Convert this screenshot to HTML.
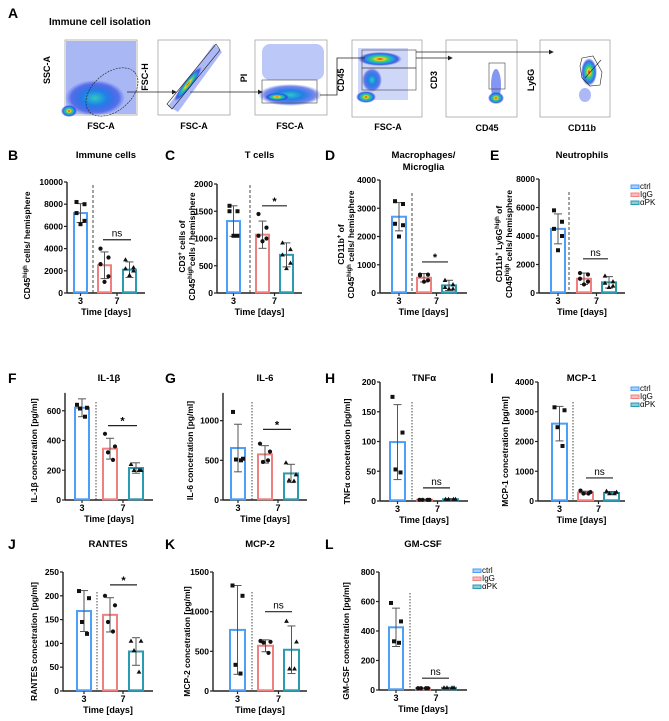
<!DOCTYPE html>
<html><head><meta charset="utf-8"><style>
html,body{margin:0;padding:0;background:#fff}
svg{display:block;font-family:"Liberation Sans",sans-serif}
.b{font-weight:bold}
</style></head><body>
<svg id="fig" width="669" height="721" viewBox="0 0 669 721" xmlns="http://www.w3.org/2000/svg">
<defs>
<radialGradient id="heat" cx="50%" cy="50%" r="50%">
<stop offset="0" stop-color="#e0201a"/><stop offset="0.2" stop-color="#f5d020"/><stop offset="0.4" stop-color="#30d070"/><stop offset="0.6" stop-color="#20a0e0"/><stop offset="0.8" stop-color="#2040e0" stop-opacity="0.8"/><stop offset="1" stop-color="#3050f0" stop-opacity="0"/>
</radialGradient>
<radialGradient id="cool" cx="50%" cy="50%" r="50%">
<stop offset="0" stop-color="#30c8c0"/><stop offset="0.4" stop-color="#2080e8"/><stop offset="0.8" stop-color="#2040e0" stop-opacity="0.6"/><stop offset="1" stop-color="#3050f0" stop-opacity="0"/>
</radialGradient>
<radialGradient id="haze" cx="50%" cy="50%" r="50%">
<stop offset="0" stop-color="#3050e8" stop-opacity="0.7"/><stop offset="1" stop-color="#3050e8" stop-opacity="0"/>
</radialGradient>
<marker id="ah" markerWidth="6" markerHeight="6" refX="5" refY="3" orient="auto"><path d="M0,0 L6,3 L0,6 z" fill="#222"/></marker>
</defs>
<g id="panelA">
<text x="8" y="18" class="b" font-size="14">A</text>
<text x="49" y="25" class="b" font-size="10">Immune cell isolation</text>
<g>
<rect x="65" y="40" width="72" height="75" fill="#fff" stroke="#999" stroke-width="0.7"/>
<rect x="66" y="41" width="70" height="73" fill="#4060e8" opacity="0.45"/>
<ellipse cx="95" cy="98" rx="30" ry="18" fill="url(#cool)"/>
<ellipse cx="69" cy="111" rx="8" ry="6" fill="url(#heat)"/>
<ellipse cx="112" cy="92" rx="30" ry="19" transform="rotate(-40 112 92)" fill="none" stroke="#222" stroke-width="0.6" stroke-dasharray="2,1"/>
<text x="50" y="70" class="b" font-size="9" transform="rotate(-90 50 70)" text-anchor="middle">SSC-A</text>
<text x="101" y="129" class="b" font-size="9" text-anchor="middle">FSC-A</text>
</g>
<g>
<rect x="158" y="40" width="72" height="75" fill="#fff" stroke="#999" stroke-width="0.7"/>
<polygon points="168,106 178,112 222,52 214,44" fill="#3050e8" opacity="0.4"/>
<ellipse cx="188" cy="84" rx="22" ry="4" transform="rotate(-52 188 84)" fill="url(#heat)"/>
<polygon points="167,104 172,109 220,50 216,44" fill="none" stroke="#222" stroke-width="0.6"/>
<text x="148" y="77" class="b" font-size="9" transform="rotate(-90 148 77)" text-anchor="middle">FSC-H</text>
<text x="194" y="129" class="b" font-size="9" text-anchor="middle">FSC-A</text>
</g>
<g>
<rect x="255" y="40" width="72" height="75" fill="#fff" stroke="#999" stroke-width="0.7"/>
<rect x="262" y="44" width="62" height="36" rx="8" fill="#4060e8" opacity="0.35"/>
<ellipse cx="290" cy="95" rx="32" ry="11" fill="url(#cool)"/>
<ellipse cx="277" cy="97" rx="12" ry="4" fill="url(#heat)"/>
<rect x="262" y="80" width="55" height="23" fill="none" stroke="#444" stroke-width="0.6"/>
<text x="247" y="78" class="b" font-size="9" transform="rotate(-90 247 78)" text-anchor="middle">PI</text>
<text x="290" y="129" class="b" font-size="9" text-anchor="middle">FSC-A</text>
</g>
<g>
<rect x="352" y="40" width="70" height="77" fill="#fff" stroke="#999" stroke-width="0.7"/>
<rect x="358" y="48" width="50" height="52" fill="#4060e8" opacity="0.25"/>
<ellipse cx="380" cy="59" rx="22" ry="7" fill="url(#heat)"/>
<ellipse cx="372" cy="80" rx="10" ry="12" fill="url(#cool)"/>
<ellipse cx="366" cy="97" rx="10" ry="6" fill="url(#heat)"/>
<rect x="362" y="50" width="54" height="18" fill="none" stroke="#444" stroke-width="0.6"/>
<rect x="362" y="68" width="54" height="22" fill="none" stroke="#444" stroke-width="0.6"/>
<text x="344" y="80" class="b" font-size="9" transform="rotate(-90 344 80)" text-anchor="middle">CD45</text>
<text x="388" y="130" class="b" font-size="9" text-anchor="middle">FSC-A</text>
</g>
<g>
<rect x="446" y="40" width="71" height="77" fill="#fff" stroke="#999" stroke-width="0.7"/>
<ellipse cx="496" cy="85" rx="5" ry="16" fill="#3050e8" opacity="0.6"/>
<ellipse cx="496" cy="98" rx="8" ry="6" fill="url(#heat)"/>
<rect x="489" y="63" width="16" height="26" fill="none" stroke="#444" stroke-width="0.6"/>
<text x="437" y="80" class="b" font-size="9" transform="rotate(-90 437 80)" text-anchor="middle">CD3</text>
<text x="487" y="131" class="b" font-size="9" text-anchor="middle">CD45</text>
</g>
<g>
<rect x="540" y="40" width="70" height="77" fill="#fff" stroke="#999" stroke-width="0.7"/>
<ellipse cx="589" cy="72" rx="8" ry="14" fill="url(#heat)"/>
<ellipse cx="585" cy="95" rx="6" ry="7" fill="#3050e8" opacity="0.4"/>
<polygon points="582,58 593,56 602,72 600,85 590,86 582,78 580,66" fill="none" stroke="#222" stroke-width="0.6"/>
<line x1="585" y1="78" x2="601" y2="60" stroke="#222" stroke-width="0.6"/>
<text x="534" y="80" class="b" font-size="9" transform="rotate(-90 534 80)" text-anchor="middle">Ly6G</text>
<text x="582" y="131" class="b" font-size="9" text-anchor="middle">CD11b</text>
</g>
<g stroke="#222" stroke-width="0.8" fill="none">
<line x1="127" y1="92" x2="176" y2="92" marker-end="url(#ah)"/>
<line x1="190" y1="92" x2="262" y2="92" marker-end="url(#ah)"/>
<polyline points="320,95 337,95 337,58 365,58"/>
<line x1="416" y1="58" x2="452" y2="58" marker-end="url(#ah)"/>
<line x1="416" y1="52" x2="553" y2="52" marker-end="url(#ah)"/>
</g>
</g>
<g id="charts"></g>
</svg>
<script>
// ---- data ----
const tickB=[0,2000,4000,6000,8000,10000];
const meanB=[7200,2500,2100]; const sdB=[850,1200,700];
const ctrlB=[8200,8000,7200,6500,6200]; const iggB=[4000,3200,2600,1500,1000]; const apkB=[3000,2300,2200,2000,1600];
const tickC=[0,500,1000,1500,2000];
const meanC=[1320,1070,700]; const sdC=[280,250,220];
const ctrlC=[1600,1500,1500,1050,1050]; const iggC=[1450,1200,1050,1000,950]; const apkC=[920,800,700,550,450];
const tickD=[0,1000,2000,3000,4000];
const meanD=[2700,540,270]; const sdD=[500,150,180];
const ctrlD=[3250,3150,2450,2400,2000]; const iggD=[650,650,620,450,400]; const apkD=[450,300,200,150,150];
const tickE=[0,2000,4000,6000,8000];
const meanE=[4500,1000,750]; const sdE=[1050,400,400];
const ctrlE=[5800,5000,4500,4000,3000]; const iggE=[1400,1300,1000,800,600]; const apkE=[1200,800,700,500,400];
const tickF=[0,200,400,600];
const meanF=[620,345,215]; const sdF=[60,70,35];
const ctrlF=[640,620,615,560]; const iggF=[445,360,320,270]; const apkF=[240,200,200,200];
const tickG=[0,500,1000];
const meanG=[655,575,335]; const sdG=[300,110,115];
const ctrlG=[1110,520,510,500]; const iggG=[710,610,480,500]; const apkG=[470,320,250,240];
const tickH=[0,50,100,150,200];
const meanH=[99,2,3]; const sdH=[63,1,1];
const ctrlH=[175,115,53,48]; const iggH=[2,2,2,2]; const apkH=[3,3,3,3];
const tickI=[0,1000,2000,3000,4000];
const meanI=[2600,280,270]; const sdI=[580,50,50];
const ctrlI=[3150,3050,2480,1850]; const iggI=[350,300,250,250]; const apkI=[330,300,250,250];
const tickJ=[0,50,100,150,200,250];
const meanJ=[168,160,83]; const sdJ=[43,36,29];
const ctrlJ=[210,195,145,120]; const iggJ=[200,180,145,125]; const apkJ=[105,105,85,40];
const tickK=[0,500,1000,1500];
const meanK=[770,570,520]; const sdK=[560,75,300];
const ctrlK=[1330,1200,330,220]; const iggK=[630,620,610,480]; const apkK=[880,620,280,280];
const tickL=[0,200,400,600,800];
const meanL=[425,12,15]; const sdL=[130,2,2];
const ctrlL=[590,465,330,320]; const iggL=[12,12,12,12]; const apkL=[15,15,15,15];
const sigLabels=["ns","*","*","ns","*","*","ns","ns","*","ns","ns"];
const sigLevels=[4800,1600,1100,2400,500,890,22,775,223,1000,80];
const categories=["3","7"];
const seriesNames=["ctrl","IgG","αPK"];

const COL=["#4d9ef7","#f08080","#2a9bb0"];
const FILL=["#a9cdfb","#f7bcbc","#8fcbd6"];
const NS="http://www.w3.org/2000/svg";
const root=document.getElementById('charts');
function mk(tag,attrs,parent,txt){const e=document.createElementNS(NS,tag);for(const k in attrs)e.setAttribute(k,attrs[k]);if(txt!==undefined)e.textContent=txt;(parent||root).appendChild(e);return e;}

const panels=[
 {id:'b',letter:'B',title:['Immune cells'],ticks:tickB,mean:meanB,sd:sdB,pts:[ctrlB,iggB,apkB],ax:67,y0:293,ytop:182,ymax:10000,axMax:10000,bars:[73,97,122],bw:15,end:145,dash:93,dashTop:185,ylab:[['CD45','high',' cells/ hemisphere']],ylx:30,sx:[103,131]},
 {id:'c',letter:'C',title:['T cells'],ticks:tickC,mean:meanC,sd:sdC,pts:[ctrlC,iggC,apkC],ax:217,y0:293,ytop:184,ymax:2000,axMax:2000,bars:[226,255,279],bw:15,end:302,dash:250,dashTop:185,ylab:[['CD3','+',' cells of'],['CD45','high','cells / hemisphere']],ylx:185,sx:[262,287]},
 {id:'d',letter:'D',title:['Macrophages/','Microglia'],ticks:tickD,mean:meanD,sd:sdD,pts:[ctrlD,iggD,apkD],ax:380,y0:293,ytop:180,ymax:4000,axMax:4000,bars:[391,416,441],bw:16,end:467,dash:412,dashTop:193,ylab:[['CD11b','+',' of'],['CD45','high',' cells/ hemisphere']],ylx:344,sx:[422,448]},
 {id:'e',letter:'E',title:['Neutrophils'],ticks:tickE,mean:meanE,sd:sdE,pts:[ctrlE,iggE,apkE],ax:539,y0:293,ytop:179,ymax:8000,axMax:8000,bars:[550,576,601],bw:16,end:625,dash:569,dashTop:192,ylab:[['CD11b','+',' Ly6G','high',' of'],['CD45','high',' cells/ hemisphere']],ylx:502,sx:[583,608],legend:[631,189]},
 {id:'f',letter:'F',title:['IL-1β'],ticks:tickF,mean:meanF,sd:sdF,pts:[ctrlF,iggF,apkF],ax:65,y0:500,ytop:381,ymax:800,axMax:720,bars:[74,102,128],bw:16,end:153,dash:96,dashTop:402,ylab:[['IL-1β concetration [pg/ml]']],ylx:37,sx:[108,137]},
 {id:'g',letter:'G',title:['IL-6'],ticks:tickG,mean:meanG,sd:sdG,pts:[ctrlG,iggG,apkG],ax:223,y0:500,ytop:381,ymax:1500,axMax:1350,bars:[230,257,283],bw:16,end:307,dash:252,dashTop:402,ylab:[['IL-6 concetration [pg/ml]']],ylx:193,sx:[263,291]},
 {id:'h',letter:'H',title:['TNFα'],ticks:tickH,mean:meanH,sd:sdH,pts:[ctrlH,iggH,apkH],ax:380,y0:501,ytop:382,ymax:200,axMax:200,bars:[389,416,442],bw:17,end:468,dash:412,dashTop:402,ylab:[['TNFα concetration [pg/ml]']],ylx:350,sx:[423,450]},
 {id:'i',letter:'I',title:['MCP-1'],ticks:tickI,mean:meanI,sd:sdI,pts:[ctrlI,iggI,apkI],ax:538,y0:501,ytop:382,ymax:4000,axMax:4000,bars:[551,577,603],bw:17,end:625,dash:573,dashTop:402,ylab:[['MCP-1 concetration [pg/ml]']],ylx:508,sx:[586,613],legend:[631,391]},
 {id:'j',letter:'J',title:['RANTES'],ticks:tickJ,mean:meanJ,sd:sdJ,pts:[ctrlJ,iggJ,apkJ],ax:63,y0:691,ytop:572,ymax:250,axMax:250,bars:[76,102,128],bw:16,end:153,dash:97,dashTop:592,ylab:[['RANTES concetration [pg/ml]']],ylx:37,sx:[110,137]},
 {id:'k',letter:'K',title:['MCP-2'],ticks:tickK,mean:meanK,sd:sdK,pts:[ctrlK,iggK,apkK],ax:213,y0:691,ytop:572,ymax:1500,axMax:1500,bars:[229,257,283],bw:17,end:307,dash:252,dashTop:592,ylab:[['MCP-2 concetration [pg/ml]']],ylx:190,sx:[265,292]},
 {id:'l',letter:'L',title:['GM-CSF'],ticks:tickL,mean:meanL,sd:sdL,pts:[ctrlL,iggL,apkL],ax:379,y0:690,ytop:572,ymax:800,axMax:800,bars:[388,415,441],bw:16,end:467,dash:410,dashTop:593,ylab:[['GM-CSF concetration [pg/ml]']],ylx:349,sx:[422,449],legend:[473,573]}
];
const titleY=[158,158,158,158,381,381,381,381,547,547,547];
const letterX={B:8,C:165,D:325,E:490,F:8,G:165,H:325,I:490,J:8,K:165,L:325};

panels.forEach((p,pi)=>{
  const g=mk('g',{});
  
  
  const y=v=>p.y0-(v/p.ymax)*(p.y0-p.ytop);
  const ty=titleY[pi];
  const L=mk('text',{x:letterX[p.letter],y:ty+2,'font-size':14,'font-weight':'bold'},g,p.letter);
  
  
  const cx=(p.ax+p.end)/2;
  p.title.forEach((t,i)=>{
    const T=mk('text',{x:cx,y:ty+i*12,'font-size':9.5,'font-weight':'bold','text-anchor':'middle'},g,t);
    
    
  });
  const ymid=(p.y0+p.ytop)/2+(p.ytop<300?8:10);
  p.ylab.forEach((parts,i)=>{
    const lx=p.ylx+i*10;
    const t=mk('text',{x:lx,y:ymid,'font-size':8.5,'font-weight':'bold','text-anchor':'middle',transform:`rotate(-90 ${lx} ${ymid})`},g);
    
    
    parts.forEach((s,k)=>{
      const sup=(s==='high'||s==='+');
      mk('tspan',sup?{'font-size':6,dy:-3}:{'font-size':8.5,dy:(k>0&&(parts[k-1]==='high'||parts[k-1]==='+'))?3:0},t,s);
    });
  });
  const ya=mk('line',{x1:p.ax,y1:y(p.axMax),x2:p.ax,y2:p.y0,stroke:'#222','stroke-width':1.4},g);
  
  
  const xa=mk('line',{x1:p.ax,y1:p.y0,x2:p.end,y2:p.y0,stroke:'#222','stroke-width':1.4},g);
  
  
  p.ticks.forEach(v=>{
    mk('line',{x1:p.ax-3,y1:y(v),x2:p.ax,y2:y(v),stroke:'#222','stroke-width':1.2},g);
    const tl=mk('text',{x:p.ax-4,y:y(v)+3,'font-size':8.5,'font-weight':'bold','text-anchor':'end'},g,String(v));
    
    
  });
  const c3=p.bars[0]+p.bw/2, c7=(p.bars[1]+p.bars[2]+p.bw)/2;
  [c3,c7].forEach((xx,i)=>{
    mk('line',{x1:xx,y1:p.y0,x2:xx,y2:p.y0+3,stroke:'#222','stroke-width':1.2},g);
    const tl=mk('text',{x:xx,y:p.y0+11,'font-size':9,'font-weight':'bold','text-anchor':'middle'},g,categories[i]);
    
    
  });
  const xt=mk('text',{x:cx,y:p.y0+22,'font-size':9,'font-weight':'bold','text-anchor':'middle'},g,'Time [days]');
  
  
  const dl=mk('line',{x1:p.dash,y1:p.dashTop,x2:p.dash,y2:p.y0,stroke:'#333','stroke-width':0.9,'stroke-dasharray':p.ytop<300?'3,2':'1.5,1.5'},g);
  
  
  p.mean.forEach((m,s)=>{
    const bx=p.bars[s];
    const r=mk('rect',{x:bx+1,y:y(m),width:p.bw-2,height:Math.max(0,p.y0-y(m)-0.7),fill:'#fff',stroke:COL[s],'stroke-width':2},g);
    
    
    const ex=bx+p.bw/2;
    const eb=mk('g',{stroke:'#555','stroke-width':1},g);
    
    
    const lo=Math.max(0,m-p.sd[s]),hi=m+p.sd[s];
    mk('line',{x1:ex,y1:y(lo),x2:ex,y2:y(hi)},eb);
    mk('line',{x1:ex-4,y1:y(hi),x2:ex+4,y2:y(hi)},eb);
    mk('line',{x1:ex-4,y1:y(lo),x2:ex+4,y2:y(lo)},eb);
    const pts=p.pts[s];
    const offs=pts.length===5?[-4,4,-4,4,0]:[-5,5,-2,3];
    pts.forEach((v,k)=>{
      const px=ex+offs[k%offs.length], py=y(v);
      let d;
      if(s===0) d=mk('rect',{x:px-2,y:py-2,width:4,height:4,fill:'#111'},g);
      else if(s===1) d=mk('circle',{cx:px,cy:py,r:2.1,fill:'#111'},g);
      else d=mk('polygon',{points:`${px},${py-2.5} ${px+2.4},${py+1.7} ${px-2.4},${py+1.7}`,fill:'#111'},g);
      
      
    });
  });
  const sy=y(sigLevels[pi]);
  const sl=mk('line',{x1:p.sx[0],y1:sy,x2:p.sx[1],y2:sy,stroke:'#222','stroke-width':1.2},g);
  
  
  const st=mk('text',{x:(p.sx[0]+p.sx[1])/2,y:sigLabels[pi]==='*'?sy-1:sy-3,'font-size':sigLabels[pi]==='*'?11:10,'text-anchor':'middle','font-weight':sigLabels[pi]==='*'?'bold':'normal'},g,sigLabels[pi]);
  
  
  if(p.legend){
    const lg=mk('g',{},g);
    
    
    seriesNames.forEach((n,s)=>{
      const ly=p.legend[1]+s*8;
      const e=mk('g',{},lg);
      
      
      mk('rect',{x:p.legend[0],y:ly-4,width:8,height:3.5,fill:FILL[s],stroke:COL[s],'stroke-width':1},e);
      mk('text',{x:p.legend[0]+9,y:ly,'font-size':8},e,n);
    });
  }
});
</script>
</body></html>
